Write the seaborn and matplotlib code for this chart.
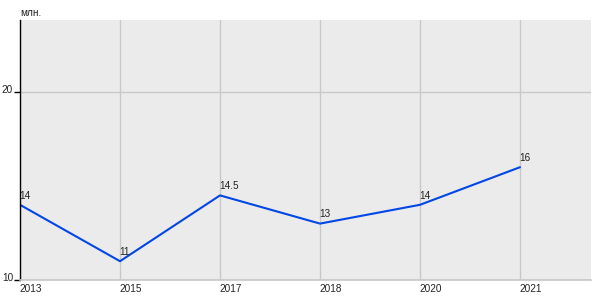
import matplotlib
matplotlib.use("Agg")
import matplotlib.pyplot as plt
import matplotlib.transforms as mtransforms
import seaborn as sns
import pandas as pd
import numpy as np

years = ["2013", "2015", "2017", "2018", "2020", "2021"]
values = [14, 11, 14.5, 13, 14, 16]
value_labels = ["14", "11", "14.5", "13", "14", "16"]
y_ticks = [10, 20]
unit_label = "млн."

sns.set_theme(style="white")
plt.rcParams["font.family"] = ["Liberation Sans", "DejaVu Sans"]

df = pd.DataFrame({"pos": np.arange(len(years)), "year": years, "value": values})

fig = plt.figure(figsize=(6, 3), dpi=100)
ax = fig.add_axes([20 / 600, 20 / 300, 571 / 600, 260 / 300])
ax.set_facecolor("#ebebeb")

sns.lineplot(data=df, x="pos", y="value", ax=ax, color="#0047e6", linewidth=1.5)

ax.set_xlim(0, 5.71)
ax.set_ylim(10, 23.83)

ax.set_xticks(df["pos"])
ax.set_xticklabels(years, ha="left", fontsize=7.2, color="#222222")
ax.set_yticks(y_ticks)
ax.set_yticklabels([str(t) for t in y_ticks], fontsize=7.2, color="#222222")

ax.tick_params(axis="x", bottom=False, length=0, pad=3)
ax.tick_params(axis="y", left=True, length=4, width=1, color="black", direction="out", pad=1)
off = mtransforms.ScaledTranslation(0, 3 / 100, fig.dpi_scale_trans)
for lab in ax.get_yticklabels():
    lab.set_transform(lab.get_transform() + off)
xoff = mtransforms.ScaledTranslation(-1 / 100, 0, fig.dpi_scale_trans)
for lab in ax.get_xticklabels():
    lab.set_transform(lab.get_transform() + xoff)

ax.grid(True, color="#c8c8c8", linewidth=1)
ax.set_axisbelow(True)

for s in ["top", "right"]:
    ax.spines[s].set_visible(False)
ax.spines["left"].set_color("black")
ax.spines["left"].set_linewidth(1.0)
ax.spines["bottom"].set_color("#c8c8c8")
ax.spines["bottom"].set_linewidth(1.2)

ax.set_xlabel("")
ax.set_ylabel("")

for x, y, t in zip(df["pos"], df["value"], value_labels):
    ax.annotate(t, (x, y), xytext=(-0.5, 3), textcoords="offset points",
                ha="left", va="bottom", fontsize=7.2, color="#222222")

fig.text(20 / 600, 1 - 13 / 300, unit_label, ha="left", va="center",
         fontsize=7.2, color="#222222")

fig.savefig("out.png", dpi=100)
